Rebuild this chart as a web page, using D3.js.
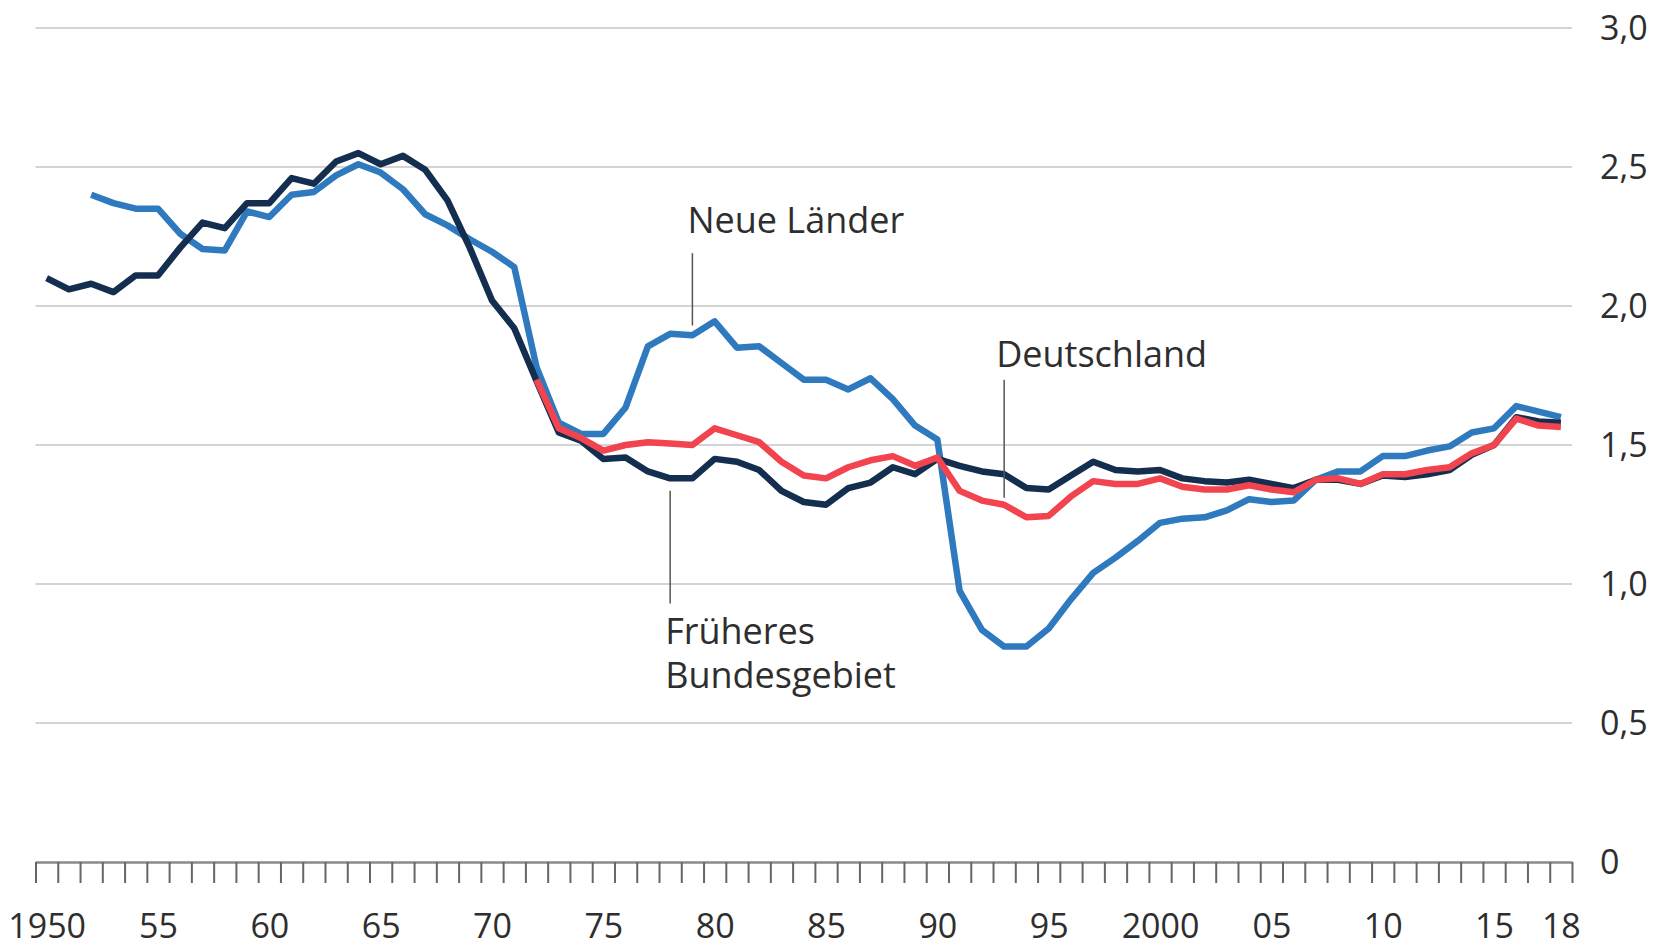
<!DOCTYPE html>
<html>
<head>
<meta charset="utf-8">
<script src="https://cdn.jsdelivr.net/npm/d3@7"></script>
<style>
	body { margin: 0; background: #fff; }
	text { font-family: 'Open Sans', 'Noto Sans', sans-serif; fill: #2e2e2e; }
</style>
</head>
<body>
<svg></svg>
<script>
const width = 1655;
const height = 948;

// Zusammengefasste Geburtenziffer
const yearsFruheres = d3.range(1950, 2019);
const fruheres = [
	2.10, 2.06, 2.08, 2.05, 2.11, 2.11, 2.21, 2.30, 2.28, 2.37,
	2.37, 2.46, 2.44, 2.52, 2.55, 2.51, 2.54, 2.49, 2.38, 2.21,
	2.02, 1.92, 1.73, 1.545, 1.515, 1.45, 1.455, 1.405, 1.38, 1.38,
	1.45, 1.44, 1.41, 1.335, 1.295, 1.285, 1.345, 1.365, 1.42, 1.395,
	1.45, 1.425, 1.405, 1.395, 1.345, 1.34, 1.39, 1.44, 1.41, 1.405,
	1.41, 1.38, 1.37, 1.365, 1.375, 1.36, 1.345, 1.375, 1.375, 1.36,
	1.39, 1.385, 1.395, 1.41, 1.465, 1.50, 1.60, 1.585, 1.58
];

const yearsNeue = d3.range(1952, 2019);
const neue = [
	2.40, 2.37, 2.35, 2.35, 2.26, 2.205, 2.20, 2.34,
	2.32, 2.40, 2.41, 2.47, 2.51, 2.48, 2.42, 2.33, 2.29, 2.24,
	2.195, 2.14, 1.78, 1.58, 1.54, 1.54, 1.635, 1.855, 1.90, 1.895,
	1.945, 1.85, 1.855, 1.795, 1.735, 1.735, 1.70, 1.74, 1.665, 1.57,
	1.52, 0.975, 0.835, 0.775, 0.775, 0.84, 0.945, 1.04, 1.095, 1.155,
	1.22, 1.235, 1.24, 1.265, 1.305, 1.295, 1.30, 1.375, 1.405, 1.405,
	1.46, 1.46, 1.48, 1.495, 1.545, 1.56, 1.64, 1.62, 1.60
];

const yearsDeutschland = d3.range(1972, 2019);
const deutschland = [
	1.735, 1.56, 1.525, 1.48, 1.50, 1.51, 1.505, 1.50,
	1.56, 1.535, 1.51, 1.44, 1.39, 1.38, 1.42, 1.445, 1.46, 1.425,
	1.455, 1.335, 1.30, 1.285, 1.24, 1.245, 1.315, 1.37, 1.36, 1.36,
	1.38, 1.35, 1.34, 1.34, 1.355, 1.34, 1.33, 1.375, 1.38, 1.36,
	1.395, 1.395, 1.41, 1.42, 1.47, 1.50, 1.595, 1.57, 1.565
];

const yTicks = [0, 0.5, 1, 1.5, 2, 2.5, 3];
const xLabelYears = [1950, 1955, 1960, 1965, 1970, 1975, 1980, 1985, 1990, 1995, 2000, 2005, 2010, 2015, 2018];
const xLabels = ['1950', '55', '60', '65', '70', '75', '80', '85', '90', '95', '2000', '05', '10', '15', '18'];

const series = [
	{ name: 'Neue Länder', years: yearsNeue, values: neue, color: '#2f79be' },
	{ name: 'Früheres Bundesgebiet', years: yearsFruheres, values: fruheres, color: '#132e4e' },
	{ name: 'Deutschland', years: yearsDeutschland, values: deutschland, color: '#f2444f' }
];

// Beschriftungen mit Hinweislinie (Jahr, Linie von/bis)
const annotations = [
	{ lines: ['Neue Länder'], year: 1979, from: 2.19, to: 1.93, dx: -5, dy: -20 },
	{ lines: ['Deutschland'], year: 1993, from: 1.735, to: 1.31, dx: -8, dy: -13 },
	{ lines: ['Früheres', 'Bundesgebiet'], year: 1978, from: 0.93, to: 1.335, dx: -5, dy: 41 }
];

const svg = d3.select('svg')
	.attr('width', width)
	.attr('height', height);

const x = d3.scaleLinear()
	.domain([1950, 2019])
	.range([35.5, 1572]);

const y = d3.scaleLinear()
	.domain([0, 3])
	.range([862, 28]);

// Gitterlinien
svg.append('g')
	.selectAll('line')
	.data(yTicks.filter(d => d !== 0))
	.enter().append('line')
		.attr('x1', x.range()[0])
		.attr('x2', x.range()[1])
		.attr('y1', d => y(d))
		.attr('y2', d => y(d))
		.attr('stroke', '#d4d4d4')
		.attr('stroke-width', 2);

// y-Achse rechts
const yAxis = d3.axisRight(y)
	.tickValues(yTicks)
	.tickSize(0)
	.tickPadding(0)
	.tickFormat(d => d === 0 ? '0' : d3.format('.1f')(d).replace('.', ','));

svg.append('g')
	.attr('transform', 'translate(1600, 0)')
	.call(yAxis)
	.call(g => g.select('.domain').remove())
	.selectAll('text')
		.attr('font-size', 34)
		.attr('dy', '0.34em')
		.attr('fill', '#2e2e2e');

// x-Achse: Striche je Jahr
const xTicks = d3.axisBottom(x)
	.tickValues(d3.range(1950, 2020))
	.tickSize(21)
	.tickSizeOuter(0)
	.tickFormat('');

svg.append('g')
	.attr('transform', `translate(0, ${y(0)})`)
	.call(xTicks)
	.call(g => g.select('.domain').attr('stroke', '#8a8a8a').attr('stroke-width', 2.5))
	.call(g => g.selectAll('.tick line').attr('stroke', '#666').attr('stroke-width', 2));

// x-Achse: Jahreszahlen in der Mitte des Jahres
const xAxis = d3.axisBottom(x)
	.tickValues(xLabelYears.map(d => d + 0.5))
	.tickSize(0)
	.tickFormat((d, i) => xLabels[i]);

svg.append('g')
	.attr('transform', `translate(0, ${y(0)})`)
	.call(xAxis)
	.call(g => g.select('.domain').remove())
	.selectAll('text')
		.attr('font-size', 34)
		.attr('y', 76)
		.attr('dy', 0)
		.attr('fill', '#2e2e2e');

// Linien
const line = d3.line()
	.x(d => x(d[0] + 0.5))
	.y(d => y(d[1]));

svg.append('g')
	.selectAll('path')
	.data(series)
	.enter().append('path')
		.attr('d', s => line(d3.zip(s.years, s.values)))
		.attr('fill', 'none')
		.attr('stroke', s => s.color)
		.attr('stroke-width', 6.5)
		.attr('stroke-linejoin', 'round');

// Beschriftungen
const notes = svg.append('g')
	.selectAll('g')
	.data(annotations)
	.enter().append('g');

notes.append('line')
	.attr('x1', d => x(d.year + 0.5))
	.attr('x2', d => x(d.year + 0.5))
	.attr('y1', d => y(d.from))
	.attr('y2', d => y(d.to))
	.attr('stroke', '#555')
	.attr('stroke-width', 1.5);

notes.append('text')
	.attr('font-size', 36)
	.attr('x', d => x(d.year + 0.5) + d.dx)
	.attr('y', d => y(d.from) + d.dy)
	.selectAll('tspan')
	.data(d => d.lines.map((t, i) => ({ t, i, x: x(d.year + 0.5) + d.dx })))
	.enter().append('tspan')
		.attr('x', d => d.x)
		.attr('dy', d => d.i === 0 ? 0 : 44)
		.text(d => d.t);
</script>
</body>
</html>
